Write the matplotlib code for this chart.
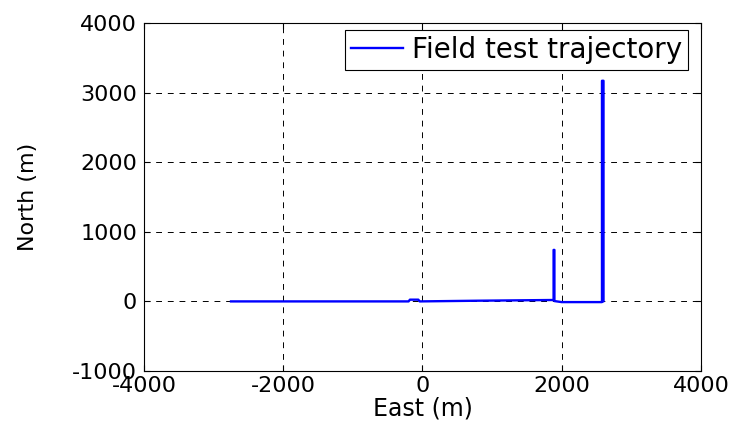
import matplotlib.pyplot as plt
import numpy as np

plt.rcParams['font.family'] = ['DejaVu Sans']
plt.rcParams['axes.unicode_minus'] = False

# trajectory (East, North in metres)
east = [-2750, -200, -180, -60, -40, 800, 1850, 1883, 1883, 1895, 1895,
        2000, 2578, 2578, 2600, 2600, 2590]
north = [0, 0, 25, 25, 0, 10, 20, 20, 740, 740, 5,
         -10, -10, 3170, 3170, 0, 0]

fig = plt.figure(figsize=(7.41, 4.30), dpi=100)
ax = fig.add_axes([0.1943, 0.1372, 0.7517, 0.8093])

ax.plot(east, north, color='#0000ff', linewidth=1.7, label='Field test trajectory')

ax.set_xlim(-4000, 4000)
ax.set_ylim(-1000, 4000)
ax.set_xticks(np.arange(-4000, 4001, 2000))
ax.set_yticks(np.arange(-1000, 4001, 1000))
ax.grid(True, color='black', linestyle=(0, (6, 6)), linewidth=0.7)
ax.tick_params(direction='in', top=True, right=True, labelsize=16, length=4)
ax.tick_params(axis='y', pad=5)
ax.tick_params(axis='x', pad=3.5)
for s in ax.spines.values():
    s.set_linewidth(0.8)

ax.set_xlabel('East (m)', fontsize=17)
ax.set_ylabel('North (m)', fontsize=16)
ax.xaxis.set_label_coords(0.5, -0.072)
ax.yaxis.set_label_coords(-0.19, 0.5)

leg = ax.legend(loc='upper right', bbox_to_anchor=(0.9767, 0.98), fontsize=20,
                fancybox=False, framealpha=1, edgecolor='black', borderpad=0.22,
                handlelength=1.85, handletextpad=0.33, borderaxespad=0)
leg.get_frame().set_linewidth(0.8)

fig.savefig('out.png', dpi=100)
